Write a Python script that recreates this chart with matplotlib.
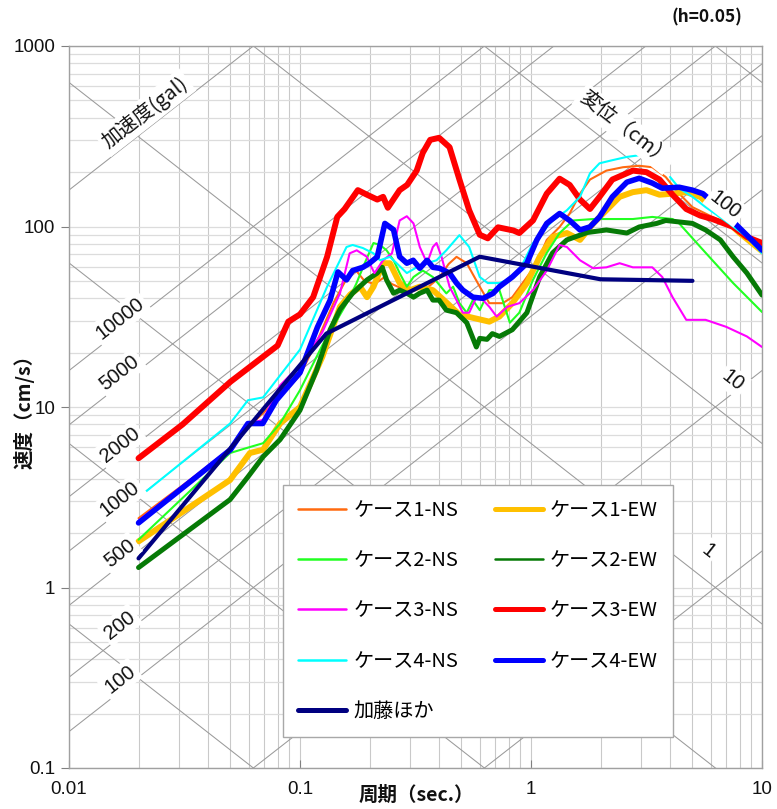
import numpy as np
import matplotlib
matplotlib.use("Agg")
import matplotlib.pyplot as plt
from matplotlib.lines import Line2D
from matplotlib.ticker import LogLocator, NullFormatter, FuncFormatter

plt.rcParams['font.family'] = ['Noto Sans CJK JP', 'DejaVu Sans']
NUM_FONT = ['Liberation Sans', 'DejaVu Sans']

# ---------------- spectra (period [s], pseudo velocity [cm/s]) ----------------
labels = ["ケース1-NS", "ケース1-EW", "ケース2-NS", "ケース2-EW",
          "ケース3-NS", "ケース3-EW", "ケース4-NS", "ケース4-EW", "加藤ほか"]

t_c1ns = [0.02, 0.05, 0.06, 0.08, 0.1, 0.12, 0.14, 0.16, 0.175, 0.19, 0.21, 0.23, 0.25, 0.28,
          0.31, 0.35, 0.40, 0.44, 0.476, 0.527, 0.6, 0.66, 0.754, 0.83, 0.92, 1.06, 1.17, 1.33,
          1.47, 1.63, 1.8, 2.12, 2.5, 2.94, 3.35, 3.83, 4.38, 5.0, 6.1, 7.5, 8.6, 10]
v_c1ns = [2.42, 5.8, 7.8, 11, 15, 24, 38, 52, 57, 50, 48, 52, 48, 45,
          40, 45, 52, 62, 67.9, 62.6, 46.4, 37.6, 37.6, 40.6, 48.6, 62.6, 84.3, 99.4,
          118, 152, 182, 204, 213, 217, 213, 188, 152, 128, 113, 99.5, 87.5, 77]

t_c1ew = [0.02, 0.0498, 0.0607, 0.0692, 0.082, 0.1, 0.125, 0.149, 0.165, 0.182, 0.195, 0.208,
          0.229, 0.245, 0.27, 0.30, 0.33, 0.376, 0.43, 0.49, 0.56, 0.66, 0.73, 0.83, 0.96, 1.09,
          1.24, 1.43, 1.63, 1.86, 2.12, 2.42, 2.76, 3.16, 3.6, 4.1, 4.7, 5.4, 6.5, 8.0, 10]
v_c1ew = [1.8, 3.94, 5.56, 5.8, 8.1, 10, 19, 35.9, 42, 46.4, 40.6, 46.4,
          62.6, 62.6, 48.6, 44.4, 46.4, 44.4, 38, 32.5, 31.2, 29.7, 31.7, 37.6, 48.6, 67.9,
          87.5, 92, 84.3, 104, 123, 146, 155, 159, 150, 152, 155, 146, 118, 92, 73]

t_c2ns = [0.02, 0.0498, 0.0607, 0.0692, 0.082, 0.1, 0.125, 0.159, 0.175, 0.19, 0.208, 0.222,
          0.237, 0.254, 0.27, 0.29, 0.31, 0.34, 0.376, 0.43, 0.46, 0.49, 0.527, 0.56, 0.60, 0.66,
          0.73, 0.81, 0.89, 1.02, 1.17, 1.33, 1.52, 1.86, 2.25, 2.76, 3.35, 4.1, 4.38, 5.4, 6.1,
          7.5, 10]
v_c2ns = [1.84, 5.56, 6.0, 6.3, 8.1, 12.4, 22, 37.4, 48, 62, 81, 79,
          73.8, 65, 55.2, 46.4, 52.5, 57, 52.5, 42.6, 46.4, 37.6, 33.3, 39.1, 34.4, 44.4,
          44.4, 29.3, 33.3, 50.6, 71.4, 92, 108, 110, 110, 110, 113, 110, 104, 77.2, 65,
          48.6, 33.6]

t_c2ew = [0.02, 0.0498, 0.0595, 0.0692, 0.082, 0.1, 0.118, 0.135, 0.149, 0.169, 0.195, 0.216,
          0.227, 0.237, 0.254, 0.27, 0.29, 0.31, 0.33, 0.355, 0.376, 0.40, 0.43, 0.476, 0.527,
          0.58, 0.6, 0.645, 0.68, 0.73, 0.83, 0.96, 1.09, 1.24, 1.43, 1.75, 2.12, 2.6, 2.94, 3.5,
          3.83, 4.38, 5.0, 5.7, 6.6, 7.5, 8.6, 10]
v_c2ew = [1.29, 3.07, 4.1, 5.3, 6.6, 9.6, 16, 26.8, 34.7, 42.7, 50.6, 55.2,
          59.4, 50.6, 42.7, 44.4, 42.7, 40.6, 42.7, 44.4, 39.1, 39.1, 34.4, 33.3, 29.3,
          21.5, 24, 23.7, 25.5, 24.6, 26.8, 33.3, 52.5, 71.4, 84.3, 92.6, 95.7, 92, 99.4, 104,
          108, 106, 104, 95.7, 84.3, 67.9, 55.2, 41.7]

t_c3ns = [0.02, 0.0498, 0.0607, 0.0692, 0.082, 0.1, 0.125, 0.149, 0.164, 0.176, 0.195, 0.2,
          0.21, 0.229, 0.25, 0.27, 0.29, 0.31, 0.33, 0.355, 0.376, 0.39, 0.41, 0.444, 0.476,
          0.507, 0.54, 0.58, 0.62, 0.66, 0.71, 0.79, 0.89, 1.02, 1.17, 1.33, 1.43, 1.63, 1.86,
          2.12, 2.42, 2.76, 3.35, 3.7, 4.1, 4.7, 5.7, 7.0, 8.6, 10]
v_c3ns = [2.35, 5.9, 8.1, 8.5, 13.2, 17, 26, 42.7, 71, 73.8, 67.9, 62.6,
          55.2, 65, 71, 108, 114, 104, 77, 62.6, 77, 81, 67.9, 46.4, 39.1,
          33.3, 33.3, 40.6, 39.1, 35.9, 31.7, 35.9, 37.6, 44.4, 57, 79, 77, 65, 58.7,
          59.4, 62.6, 59.4, 59.4, 52.5, 40.6, 30.4, 30.4, 27.8, 24.6, 21.5]

t_c3ew = [0.02, 0.031, 0.05, 0.06, 0.08, 0.089, 0.1, 0.114, 0.131, 0.145, 0.156, 0.178, 0.195,
          0.216, 0.229, 0.24, 0.27, 0.291, 0.32, 0.34, 0.366, 0.40, 0.444, 0.49, 0.54, 0.60,
          0.65, 0.72, 0.84, 0.89, 1.02, 1.17, 1.33, 1.47, 1.63, 1.8, 1.98, 2.25, 2.76, 3.16,
          3.6, 4.1, 4.7, 5.4, 6.1, 7.5, 8.6, 10]
v_c3ew = [5.2, 8.0, 13.8, 16.5, 21.9, 29.7, 32.6, 40.6, 67.9, 113, 125, 159, 150,
          141, 146, 127, 159, 170, 204, 256, 302, 310, 275, 182, 123, 90,
          86, 99, 95, 92, 108, 152, 184, 170, 141, 125, 146, 182, 204, 200,
          182, 150, 125, 115, 110, 99.5, 87.5, 81]

# the NS record of case 4 is not drawn between 3 s and 4 s
t_c4ns = [0.02, 0.0498, 0.0595, 0.0692, 0.1, 0.131, 0.159, 0.169, 0.187, 0.208, 0.222, 0.245,
          0.262, 0.29, 0.32, 0.355, 0.39, 0.43, 0.49, 0.54, 0.60, 0.65, 0.73, 0.79, 0.89, 1.02,
          1.24, 1.43, 1.63, 1.8, 1.98, 2.25, 2.6, 3.0, 3.5, 4.0, 4.38, 5.0, 5.7, 7.2, 8.6, 10]
v_c4ns = [3.15, 8.1, 10.9, 11.3, 20.8, 46.4, 77, 79, 76, 71, 65, 67.9,
          62.6, 55.2, 59.4, 62.6, 65, 73.8, 89.6, 77, 52.5, 48.6, 48.6, 50.6, 57, 81,
          108, 123, 146, 197, 224, 233, 243, 249, np.nan, 188, 163, 146, 128, 104, 87.5, 71]

t_c4ew = [0.02, 0.05, 0.0595, 0.069, 0.079, 0.1, 0.119, 0.135, 0.146, 0.159, 0.169, 0.187,
          0.2, 0.216, 0.233, 0.254, 0.27, 0.29, 0.309, 0.33, 0.355, 0.376, 0.402, 0.444, 0.476,
          0.507, 0.56, 0.62, 0.685, 0.73, 0.83, 0.96, 1.06, 1.17, 1.33, 1.47, 1.63, 1.8, 1.98,
          2.25, 2.6, 2.94, 3.35, 3.7, 4.38, 5.0, 5.55, 6.5, 8.0, 10]
v_c4ew = [2.28, 5.8, 8.1, 8.1, 10.9, 15.5, 27.7, 39.1, 56, 50.6, 57, 59.4,
          62.6, 67.9, 104, 96, 68, 62.6, 65, 58.7, 65, 59.4, 58.7, 55.2, 48.6,
          44.4, 40.6, 40, 42.6, 46.4, 52.5, 62.6, 84.3, 104, 118, 108, 95.7, 99.5, 113,
          146, 176, 185, 174, 163, 165, 159, 152, 128, 98, 74]

t_kato = [0.02, 0.13, 0.6, 2.0, 5.0]
v_kato = [1.45, 25.5, 68, 51, 50]

periods = [t_c1ns, t_c1ew, t_c2ns, t_c2ew, t_c3ns, t_c3ew, t_c4ns, t_c4ew, t_kato]
velocities = [v_c1ns, v_c1ew, v_c2ns, v_c2ew, v_c3ns, v_c3ew, v_c4ns, v_c4ew, v_kato]

colors = ["#FF6A10", "#FFC000", "#22FF22", "#067A06", "#FF00FF",
          "#FF0000", "#00FFFF", "#0000FF", "#000080"]
widths = [1.5, 4.3, 1.5, 3.6, 1.5, 4.3, 1.5, 4.0, 3.0]
legend_widths = [1.8, 3.6, 1.8, 1.8, 1.8, 3.6, 1.8, 3.6, 3.6]

# tripartite guide lines
accel_lines = [1, 10, 100, 200, 500, 1000, 2000, 5000, 10000, 100000, 1000000]
disp_lines = [0.0001, 0.001, 0.01, 0.1, 1, 10, 100, 1000, 10000]
accel_labels = [10000, 5000, 2000, 1000, 500, 200, 100]
disp_labels = [100, 10, 1]

# ---------------------------------------------------------------------------
W, H = 777, 809
fig = plt.figure(figsize=(W / 100, H / 100), dpi=100)
ax = fig.add_axes([69 / W, 41 / H, 693 / W, 722 / H])
ax.set_xscale('log')
ax.set_yscale('log')
ax.set_xlim(0.01, 10)
ax.set_ylim(0.1, 1000)

ax.xaxis.set_minor_locator(LogLocator(base=10, subs=np.arange(2, 10)))
ax.yaxis.set_minor_locator(LogLocator(base=10, subs=np.arange(2, 10)))
ax.xaxis.set_minor_formatter(NullFormatter())
ax.yaxis.set_minor_formatter(NullFormatter())
fmt = FuncFormatter(lambda v, p: f"{v:g}")
ax.xaxis.set_major_formatter(fmt)
ax.yaxis.set_major_formatter(fmt)

ax.grid(True, which='both', axis='x', color='#c9c9c9', lw=0.8, zorder=0)
ax.grid(True, which='both', axis='y', color='#dcdcdc', lw=0.9, zorder=0)
ax.set_axisbelow(True)

ax.tick_params(axis='x', which='major', direction='in', length=6, color='#808080',
               labelsize=13.5, pad=9, labelcolor='#111111')
ax.tick_params(axis='y', which='major', direction='out', length=6, color='#808080',
               labelsize=13.5, pad=4, labelcolor='#111111')
ax.tick_params(which='minor', length=0)
for lab in ax.get_xticklabels() + ax.get_yticklabels():
    lab.set_family(NUM_FONT)
for s in ax.spines.values():
    s.set_color('#a0a0a0')
    s.set_linewidth(1.0)

tt = np.logspace(-2, 1, 300)
for a in accel_lines:
    ax.plot(tt, a * tt / (2 * np.pi), color='#9a9a9a', lw=0.75, zorder=1)
for d in disp_lines:
    ax.plot(tt, 2 * np.pi * d / tt, color='#9a9a9a', lw=0.75, zorder=1)

# spectra
for t, v, c, w in zip(periods, velocities, colors, widths):
    ax.plot(t, v, color=c, lw=w, solid_joinstyle='round', solid_capstyle='round', zorder=3)


def slope_angle(f, t0):
    p0 = ax.transData.transform((t0, f(t0)))
    p1 = ax.transData.transform((t0 * 1.2, f(t0 * 1.2)))
    return np.degrees(np.arctan2(p1[1] - p0[1], p1[0] - p0[0]))


box = dict(boxstyle='square,pad=0.15', fc='white', ec='none')
px = 72 / 100  # points per pixel

# acceleration scale labels (left side)
for a in accel_labels:
    f = lambda t, a=a: a * t / (2 * np.pi)
    t0 = 0.0166
    ax.annotate(str(a), (t0, f(t0)), xytext=(0, 12.5 * px), textcoords='offset points',
                ha='center', va='center', rotation=slope_angle(f, t0), fontsize=14.5,
                family=NUM_FONT, color='#111111', bbox=box, zorder=6, rotation_mode='anchor')

f100k = lambda t: 100000 * t / (2 * np.pi)
ax.annotate("加速度(gal)", (0.02133, f100k(0.02133)), xytext=(0, 18 * px),
            textcoords='offset points', ha='center', va='center',
            rotation=slope_angle(f100k, 0.0213), fontsize=14.5, color='#111111',
            bbox=box, zorder=6, rotation_mode='anchor')

# displacement scale labels (right side)
disp_label_pos = [(6.95, 29), (7.49, 40), (5.86, 31)]
for d, (t0, off) in zip(disp_labels, disp_label_pos):
    f = lambda t, d=d: 2 * np.pi * d / t
    ax.annotate(str(d), (t0, f(t0)), xytext=(0, off * px), textcoords='offset points',
                ha='center', va='center', rotation=slope_angle(f, t0), fontsize=14.5,
                family=NUM_FONT, color='#111111', bbox=box, zorder=6, rotation_mode='anchor')

fd100 = lambda t: 2 * np.pi * 100 / t
ax.annotate("変位（cm）", (2.555, fd100(2.555)), xytext=(0, 27 * px),
            textcoords='offset points', ha='center', va='center',
            rotation=slope_angle(fd100, 2.555), fontsize=14.5, color='#111111',
            bbox=box, zorder=6, rotation_mode='anchor')

# legend
handles = [Line2D([], [], color=c, lw=w, solid_capstyle='round')
           for c, w in zip(colors, legend_widths)]
order = [0, 2, 4, 6, 8, 1, 3, 5, 7]
leg = ax.legend([handles[i] for i in order], [labels[i] for i in order], ncol=2,
                loc='upper left', bbox_to_anchor=((283 - 69) / 693, (768 - 485) / 722),
                frameon=True, fancybox=False, edgecolor='#a8a8a8', framealpha=1,
                fontsize=14.5, handlelength=2.4, handletextpad=0.35, columnspacing=1.8,
                labelspacing=1.45, borderpad=0.75, borderaxespad=0)
leg.get_frame().set_linewidth(1.0)
leg.set_zorder(10)

# axis titles and damping note
fig.text(416 / W, 1 - 795 / H, "周期（sec.）", ha='center', va='center', fontsize=14,
         fontweight='bold', color='#111111')
fig.text(24 / W, 1 - 407 / H, "速度（cm/s）", ha='center', va='center', fontsize=14,
         fontweight='bold', rotation=90, color='#111111')
fig.text(707 / W, 1 - 17 / H, "(h=0.05)", ha='center', va='center', fontsize=12.5,
         fontweight='bold', color='#111111')

fig.savefig("out.png", dpi=100)
